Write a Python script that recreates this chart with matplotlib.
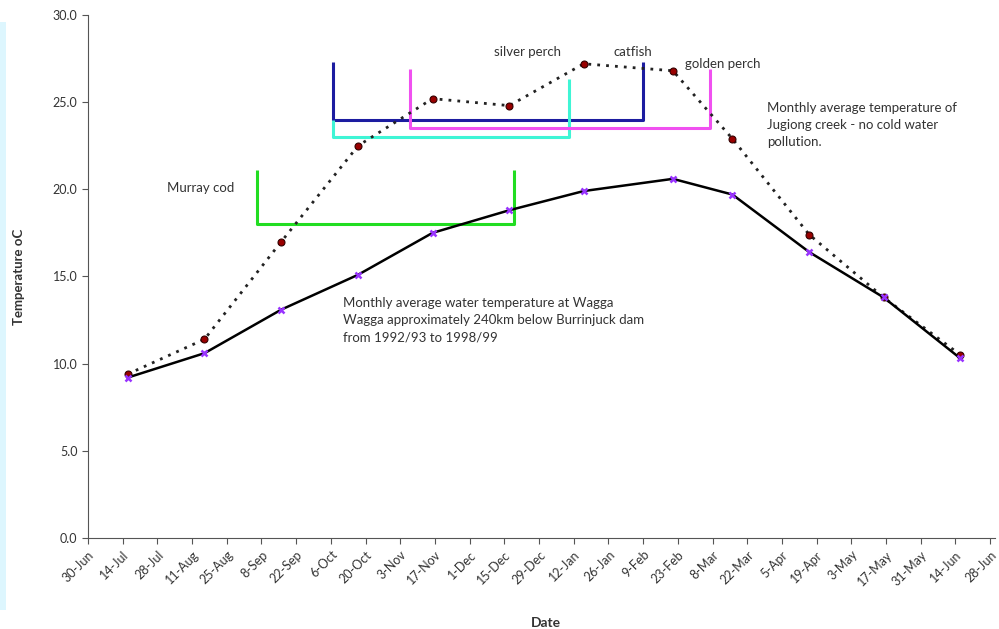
import matplotlib
matplotlib.use("Agg")
import matplotlib.pyplot as plt
from matplotlib.patches import Rectangle

plt.rcParams['font.family'] = ['Lato', 'DejaVu Sans']

# x positions are days after 30 June
tick_labels = ['30-Jun', '14-Jul', '28-Jul', '11-Aug', '25-Aug', '8-Sep', '22-Sep',
               '6-Oct', '20-Oct', '3-Nov', '17-Nov', '1-Dec', '15-Dec', '29-Dec',
               '12-Jan', '26-Jan', '9-Feb', '23-Feb', '8-Mar', '22-Mar', '5-Apr',
               '19-Apr', '3-May', '17-May', '31-May', '14-Jun', '28-Jun']
tick_days = [14 * i for i in range(len(tick_labels))]

month_days = [16, 47, 78, 109, 139, 170, 200, 236, 260, 291, 321, 352]
wagga_temp = [9.2, 10.6, 13.1, 15.1, 17.5, 18.8, 19.9, 20.6, 19.7, 16.4, 13.8, 10.3]
jugiong_temp = [9.4, 11.4, 17.0, 22.5, 25.2, 24.8, 27.2, 26.8, 22.9, 17.4, 13.8, 10.5]

# spawning temperature brackets (days, temperature)
cod_x = [68, 68, 172, 172]
cod_y = [21.1, 18.0, 18.0, 21.1]
catfish_x = [99, 99, 224, 224]
catfish_y = [27.3, 24.0, 24.0, 27.3]
silver_x = [99, 99, 194, 194]
silver_y = [24.0, 23.0, 23.0, 26.3]
golden_x = [130, 130, 251, 251]
golden_y = [26.9, 23.5, 23.5, 26.9]

txt = '#333333'

fig = plt.figure(figsize=(9.99, 6.29), dpi=100)
fig.patches.append(Rectangle((0, 0.030), 0.006, 0.935, transform=fig.transFigure,
                             facecolor='#ddf6fe', edgecolor='none'))
ax = fig.add_axes([0.0881, 0.1447, 0.908, 0.8315])

ax.plot(cod_x, cod_y, color='#22dd22', lw=2.2, solid_capstyle='butt')
ax.plot(catfish_x, catfish_y, color='#1c1ca0', lw=2.2, solid_capstyle='butt')
ax.plot(silver_x, silver_y, color='#3ff5d5', lw=2.2, solid_capstyle='butt')
ax.plot(golden_x, golden_y, color='#f050f0', lw=2.2, solid_capstyle='butt')

ax.plot(month_days, jugiong_temp, color='#222222', lw=2.0, linestyle=(0, (1, 2.2)),
        marker='o', markersize=5, markerfacecolor='#990000',
        markeredgecolor='#330000', markeredgewidth=0.8)
ax.plot(month_days, wagga_temp, color='black', lw=1.8,
        marker='x', markersize=5, markeredgecolor='#9933ff', markeredgewidth=1.8)

ax.text(32, 20.1, 'Murray cod', fontsize=9.5, color=txt, va='center')
ax.text(164, 27.9, 'silver perch', fontsize=9.5, color=txt, va='center')
ax.text(212, 27.9, 'catfish', fontsize=9.5, color=txt, va='center')
ax.text(241, 27.2, 'golden perch', fontsize=9.5, color=txt, va='center')
ax.text(274, 25.0, 'Monthly average temperature of\nJugiong creek - no cold water\npollution.',
        fontsize=9.5, color=txt, va='top', linespacing=1.5)
ax.text(103, 13.8, 'Monthly average water temperature at Wagga\n'
        'Wagga approximately 240km below Burrinjuck dam\nfrom 1992/93 to 1998/99',
        fontsize=9.5, color=txt, va='top', linespacing=1.5)

ax.set_xlim(0, 366)
ax.set_ylim(0, 30)
ax.set_xticks(tick_days)
ax.set_xticklabels(tick_labels, rotation=45, ha='right', rotation_mode='anchor')
ax.set_yticks([0, 5, 10, 15, 20, 25, 30])
ax.set_yticklabels(['%.1f' % v for v in [0, 5, 10, 15, 20, 25, 30]])
ax.tick_params(axis='both', colors='#555555', labelcolor=txt, labelsize=9, length=4)

for side in ['top', 'right']:
    ax.spines[side].set_visible(False)
for side in ['left', 'bottom']:
    ax.spines[side].set_color('#555555')

ax.set_ylabel('Temperature oC', fontsize=9.5, fontweight='bold', color=txt)
ax.set_xlabel('Date', fontsize=10, fontweight='bold', color=txt)
ax.yaxis.set_label_coords(-0.070, 0.5)
ax.xaxis.set_label_coords(0.505, -0.151)

fig.savefig('out.png', dpi=100)
